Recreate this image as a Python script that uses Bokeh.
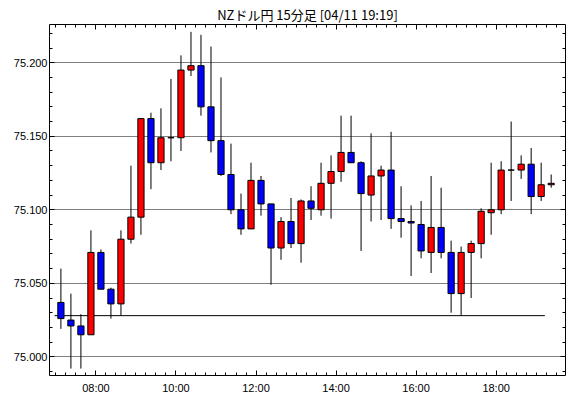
from bokeh.plotting import figure
from bokeh.models import (ColumnDataSource, FixedTicker, LinearAxis, PrintfTickFormatter)
from bokeh.embed import file_html
from bokeh.resources import INLINE

title_text = "NZドル円 15分足 [04/11 19:19]"

times = ["07:00", "07:15", "07:30", "07:45", "08:00", "08:15", "08:30", "08:45",
         "09:00", "09:15", "09:30", "09:45", "10:00", "10:15", "10:30", "10:45",
         "11:00", "11:15", "11:30", "11:45", "12:00", "12:15", "12:30", "12:45",
         "13:00", "13:15", "13:30", "13:45", "14:00", "14:15", "14:30", "14:45",
         "15:00", "15:15", "15:30", "15:45", "16:00", "16:15", "16:30", "16:45",
         "17:00", "17:15", "17:30", "17:45", "18:00", "18:15", "18:30", "18:45",
         "19:00", "19:15"]
opens = [75.037, 75.025, 75.021, 75.015, 75.071, 75.046, 75.036, 75.080,
         75.095, 75.162, 75.132, 75.149, 75.149, 75.195, 75.198, 75.170,
         75.147, 75.124, 75.100, 75.087, 75.120, 75.104, 75.074, 75.092,
         75.077, 75.106, 75.100, 75.118, 75.126, 75.139, 75.132, 75.110,
         75.123, 75.127, 75.094, 75.092, 75.090, 75.071, 75.088, 75.071,
         75.043, 75.071, 75.077, 75.098, 75.100, 75.127, 75.127, 75.131,
         75.109, 75.117]
highs = [75.060, 75.043, 75.029, 75.086, 75.073, 75.047, 75.086, 75.130,
         75.162, 75.166, 75.169, 75.189, 75.205, 75.221, 75.219, 75.211,
         75.190, 75.145, 75.111, 75.132, 75.123, 75.104, 75.095, 75.108,
         75.107, 75.116, 75.132, 75.137, 75.164, 75.164, 75.133, 75.152,
         75.130, 75.153, 75.116, 75.103, 75.106, 75.123, 75.115, 75.079,
         75.075, 75.079, 75.101, 75.132, 75.133, 75.160, 75.137, 75.142,
         75.132, 75.124]
lows = [75.019, 74.992, 74.992, 75.015, 75.046, 75.026, 75.028, 75.077,
        75.083, 75.114, 75.127, 75.133, 75.140, 75.191, 75.164, 75.139,
        75.123, 75.097, 75.083, 75.087, 75.096, 75.049, 75.066, 75.074,
        75.064, 75.093, 75.096, 75.094, 75.119, 75.132, 75.072, 75.092,
        75.093, 75.087, 75.081, 75.055, 75.067, 75.057, 75.067, 75.030,
        75.028, 75.040, 75.067, 75.083, 75.097, 75.106, 75.121, 75.097,
        75.106, 75.115]
closes = [75.026, 75.021, 75.015, 75.071, 75.046, 75.036, 75.080, 75.095,
          75.162, 75.132, 75.149, 75.149, 75.195, 75.198, 75.170, 75.147,
          75.124, 75.100, 75.087, 75.120, 75.104, 75.074, 75.092, 75.077,
          75.106, 75.101, 75.118, 75.126, 75.139, 75.132, 75.111, 75.123,
          75.127, 75.094, 75.092, 75.091, 75.072, 75.088, 75.071, 75.043,
          75.071, 75.077, 75.099, 75.100, 75.127, 75.127, 75.131, 75.109,
          75.117, 75.118]

ref_level = 75.028
ref_start = "06:58"
ref_end = "19:13"

x_tick_labels = ["08:00", "10:00", "12:00", "14:00", "16:00", "18:00"]
y_tick_values = [75.000, 75.050, 75.100, 75.150, 75.200]
y_minor_values = [74.99, 75.00, 75.01, 75.02, 75.03, 75.04, 75.05, 75.06, 75.07,
                  75.08, 75.09, 75.10, 75.11, 75.12, 75.13, 75.14, 75.15, 75.16,
                  75.17, 75.18, 75.19, 75.20, 75.21, 75.22]

UP = "#FF0000"
DOWN = "#0000FF"


def to_h(s):
    h, m = s.split(":")
    return int(h) + int(m) / 60.0


bar_len = 0.25
xc = [to_h(t) + bar_len / 2 for t in times]
src = ColumnDataSource(dict(
    x=xc, o=opens, h=highs, l=lows, c=closes,
    top=[max(a, b) for a, b in zip(opens, closes)],
    bot=[min(a, b) for a, b in zip(opens, closes)],
    color=[UP if c > o else DOWN for o, c in zip(opens, closes)],
))

p = figure(width=570, height=398, output_backend="svg", toolbar_location=None,
           x_range=(6.84, 19.733), y_range=(74.9873, 75.226),
           min_border_left=49, min_border_right=5, min_border_top=24,
           min_border_bottom=23, x_axis_location=None, y_axis_location=None)
p.title.text = title_text
p.title.align = "center"
p.title.text_font = "Noto Sans CJK JP"
p.title.text_font_size = "13px"
p.title.text_font_style = "normal"
p.title.text_color = "black"
p.title.standoff = 2
p.outline_line_color = "black"
p.outline_line_width = 1
p.outline_line_alpha = 1
p.background_fill_color = "white"
p.border_fill_color = "white"

x_major = [to_h(t) for t in x_tick_labels]
x_minor = [to_h(times[0]) + bar_len * k for k in range(0, 51)]
xt = FixedTicker(ticks=x_major, minor_ticks=x_minor)
yt = FixedTicker(ticks=y_tick_values, minor_ticks=y_minor_values)


def make_axis(kind, show_labels):
    ax = LinearAxis(ticker=xt if kind == "x" else yt)
    ax.axis_line_color = None
    ax.major_tick_in = 5
    ax.major_tick_out = 0
    ax.minor_tick_in = 3
    ax.minor_tick_out = 0
    ax.major_tick_line_color = "black"
    ax.minor_tick_line_color = "black"
    ax.major_label_text_font = "Liberation Sans"
    ax.major_label_text_font_size = "11px"
    ax.major_label_text_color = "black"
    if kind == "x":
        labels = x_tick_labels if show_labels else [""] * len(x_major)
        ax.major_label_overrides = {float(v): s for v, s in zip(x_major, labels)}
        ax.major_label_standoff = 6
    else:
        ax.formatter = PrintfTickFormatter(format="%.3f")
        ax.major_label_standoff = 2
        if not show_labels:
            ax.major_label_overrides = {float(v): "" for v in y_tick_values}
    if not show_labels:
        ax.major_label_text_color = None
        ax.major_label_text_font_size = "1px"
        ax.major_label_standoff = 0
    return ax


for loc, lab, kind in [("below", True, "x"), ("above", False, "x"),
                       ("left", True, "y"), ("right", False, "y")]:
    p.add_layout(make_axis(kind, lab), loc)

p.xgrid.visible = False
p.ygrid.ticker = yt
p.ygrid.grid_line_color = "black"
p.ygrid.grid_line_dash = "1 1"
p.ygrid.grid_line_width = 1

p.segment(x0=[to_h(ref_start)], x1=[to_h(ref_end)], y0=[ref_level], y1=[ref_level],
          line_color="black", line_width=1)
p.segment(x0="x", x1="x", y0="h", y1="l", source=src, line_color="black", line_width=1)
p.vbar(x="x", width=0.155, top="top", bottom="bot", source=src,
       fill_color="color", line_color="black", line_width=1)

open("out.html", "w").write(file_html(p, INLINE))
